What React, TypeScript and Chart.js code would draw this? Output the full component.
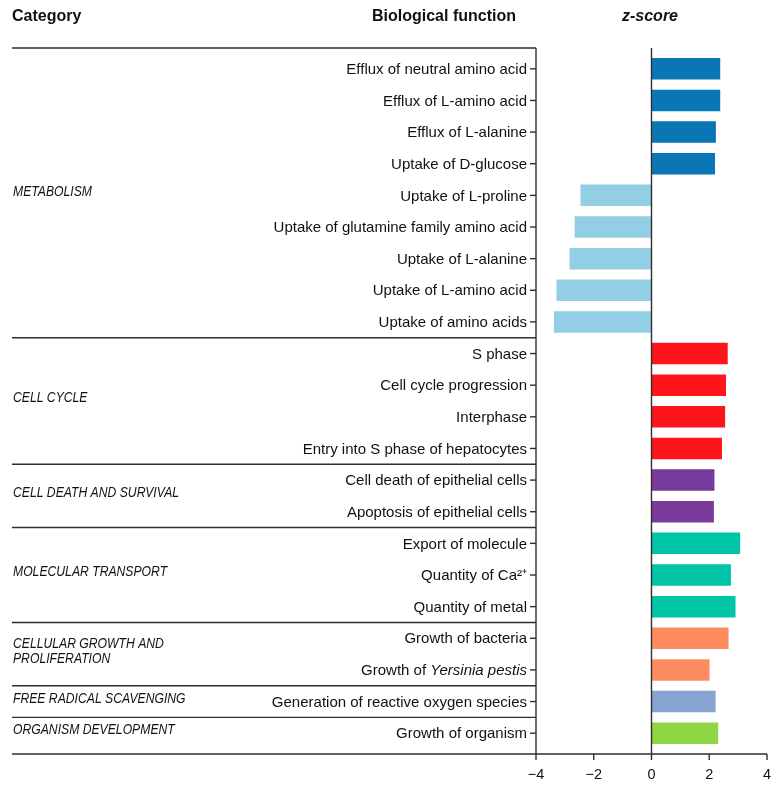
import React, { useEffect, useRef } from 'react';
import { Chart, registerables } from 'chart.js';

Chart.register(...registerables);

const functions: string[] = [
  'Efflux of neutral amino acid',
  'Efflux of L-amino acid',
  'Efflux of L-alanine',
  'Uptake of D-glucose',
  'Uptake of L-proline',
  'Uptake of glutamine family amino acid',
  'Uptake of L-alanine',
  'Uptake of L-amino acid',
  'Uptake of amino acids',
  'S phase',
  'Cell cycle progression',
  'Interphase',
  'Entry into S phase of hepatocytes',
  'Cell death of epithelial cells',
  'Apoptosis of epithelial cells',
  'Export of molecule',
  'Quantity of Ca\u00B2\u207A',
  'Quantity of metal',
  'Growth of bacteria',
  'Growth of Yersinia pestis',
  'Generation of reactive oxygen species',
  'Growth of organism',
];

const italicParts: Record<string, string> = {
  'Growth of Yersinia pestis': 'Yersinia pestis',
};

const zScores: number[] = [
  2.38, 2.38, 2.23, 2.2, -2.46, -2.66, -2.84, -3.29, -3.38,
  2.64, 2.58, 2.55, 2.44,
  2.18, 2.16,
  3.07, 2.75, 2.91,
  2.67, 2.01,
  2.22,
  2.31,
];

const barColors: string[] = [
  '#0a76b6', '#0a76b6', '#0a76b6', '#0a76b6',
  '#92cfe5', '#92cfe5', '#92cfe5', '#92cfe5', '#92cfe5',
  '#fe141b', '#fe141b', '#fe141b', '#fe141b',
  '#7a3a9c', '#7a3a9c',
  '#00c4a6', '#00c4a6', '#00c4a6',
  '#ff8c5f', '#ff8c5f',
  '#87a3d1',
  '#8ed643',
];

const categoryNames: string[][] = [
  ['METABOLISM'],
  ['CELL CYCLE'],
  ['CELL DEATH AND SURVIVAL'],
  ['MOLECULAR TRANSPORT'],
  ['CELLULAR GROWTH AND', 'PROLIFERATION'],
  ['FREE RADICAL SCAVENGING'],
  ['ORGANISM DEVELOPMENT'],
];
const categorySizes: number[] = [9, 4, 2, 3, 2, 1, 1];

const xTicks: number[] = [-4, -2, 0, 2, 4];
const headerCategory = 'Category';
const headerFunction = 'Biological function';
const headerScore = 'z-score';

const FONT = "'Liberation Sans', Arial, sans-serif";

const overlay = {
  id: 'overlay',
  afterDraw(chart: any) {
    const { ctx, chartArea: a, scales } = chart;
    const xs = scales.x;
    const ys = scales.y;
    const top = a.top - 5;
    const bot = a.bottom + 5;
    const leftX = 12;
    ctx.save();
    ctx.strokeStyle = '#2e2e2e';
    ctx.lineWidth = 1.4;
    const line = (x1: number, y1: number, x2: number, y2: number) => {
      ctx.beginPath();
      ctx.moveTo(x1, y1);
      ctx.lineTo(x2, y2);
      ctx.stroke();
    };
    line(leftX, top, a.left, top);
    let idx = 0;
    const groupCenters: number[] = [];
    for (let g = 0; g < categorySizes.length; g++) {
      const first = idx;
      idx += categorySizes[g];
      const last = idx - 1;
      groupCenters.push((ys.getPixelForValue(first) + ys.getPixelForValue(last)) / 2);
      if (g < categorySizes.length - 1) {
        const yy = (ys.getPixelForValue(last) + ys.getPixelForValue(idx)) / 2;
        line(leftX, yy, a.left, yy);
      }
    }
    line(leftX, bot, a.right, bot);
    line(a.left, top, a.left, bot);
    const x0 = xs.getPixelForValue(0);
    line(x0, top, x0, bot);
    functions.forEach((_, i) => {
      const yy = ys.getPixelForValue(i);
      line(a.left - 6, yy, a.left, yy);
    });
    xTicks.forEach((v) => {
      const xx = xs.getPixelForValue(v);
      line(xx, bot, xx, bot + 6);
    });

    // function labels
    ctx.fillStyle = '#111111';
    ctx.textBaseline = 'middle';
    const rightX = a.left - 9;
    const fs = 15;
    functions.forEach((label, i) => {
      const yy = ys.getPixelForValue(i) + 1;
      const it = italicParts[label];
      if (it) {
        const normal = label.slice(0, label.length - it.length);
        ctx.font = `${fs}px ${FONT}`;
        const w1 = ctx.measureText(normal).width;
        ctx.font = `italic ${fs}px ${FONT}`;
        const w2 = ctx.measureText(it).width;
        ctx.textAlign = 'left';
        const sx = rightX - w1 - w2;
        ctx.font = `${fs}px ${FONT}`;
        ctx.fillText(normal, sx, yy);
        ctx.font = `italic ${fs}px ${FONT}`;
        ctx.fillText(it, sx + w1, yy);
      } else {
        ctx.font = `${fs}px ${FONT}`;
        ctx.textAlign = 'right';
        ctx.fillText(label, rightX, yy);
      }
    });

    // category labels (condensed italic)
    ctx.font = `italic 14.5px ${FONT}`;
    ctx.textAlign = 'left';
    categoryNames.forEach((lines, g) => {
      const yc = groupCenters[g] - 3;
      const n = lines.length;
      lines.forEach((t, k) => {
        const yy = yc + (k - (n - 1) / 2) * 15;
        ctx.save();
        ctx.translate(leftX + 1, yy);
        ctx.scale(0.84, 1);
        ctx.fillText(t, 0, 0);
        ctx.restore();
      });
    });

    // headers
    ctx.font = `bold 16px ${FONT}`;
    ctx.textAlign = 'left';
    ctx.fillText(headerCategory, leftX, 17);
    ctx.textAlign = 'right';
    ctx.fillText(headerFunction, 516, 17);
    ctx.font = `italic bold 16px ${FONT}`;
    ctx.textAlign = 'center';
    ctx.fillText(headerScore, 650, 17);
    ctx.restore();
  },
};

export default function App() {
  const ref = useRef<HTMLCanvasElement | null>(null);
  useEffect(() => {
    if (!ref.current) return;
    const chart = new Chart(ref.current, {
      type: 'bar',
      data: {
        labels: functions,
        datasets: [
          {
            data: zScores,
            backgroundColor: barColors,
            borderWidth: 0,
            barPercentage: 0.68,
            categoryPercentage: 1,
          },
        ],
      },
      options: {
        indexAxis: 'y',
        animation: false,
        responsive: true,
        maintainAspectRatio: false,
        layout: { padding: { left: 536, right: 11, top: 53, bottom: 0 } },
        plugins: { legend: { display: false }, tooltip: { enabled: false } },
        scales: {
          y: { display: false },
          x: {
            min: -4,
            max: 4,
            grid: { display: false },
            border: { display: false },
            afterFit: (scale: any) => {
              scale.height = 37;
              scale.paddingLeft = 0;
              scale.paddingRight = 0;
            },
            afterBuildTicks: (scale: any) => {
              scale.ticks = xTicks.map((v) => ({ value: v }));
            },
            ticks: {
              padding: 9,
              color: '#111111',
              font: { family: FONT, size: 14.5 },
              callback: (v: any) => (Number(v) < 0 ? '\u2212' + Math.abs(Number(v)) : String(v)),
            },
          },
        },
      },
      plugins: [overlay],
    });
    return () => chart.destroy();
  }, []);
  return (
    <div style={{ position: 'fixed', left: 0, top: 0, width: 778, height: 786 }}>
      <canvas ref={ref} />
    </div>
  );
}
